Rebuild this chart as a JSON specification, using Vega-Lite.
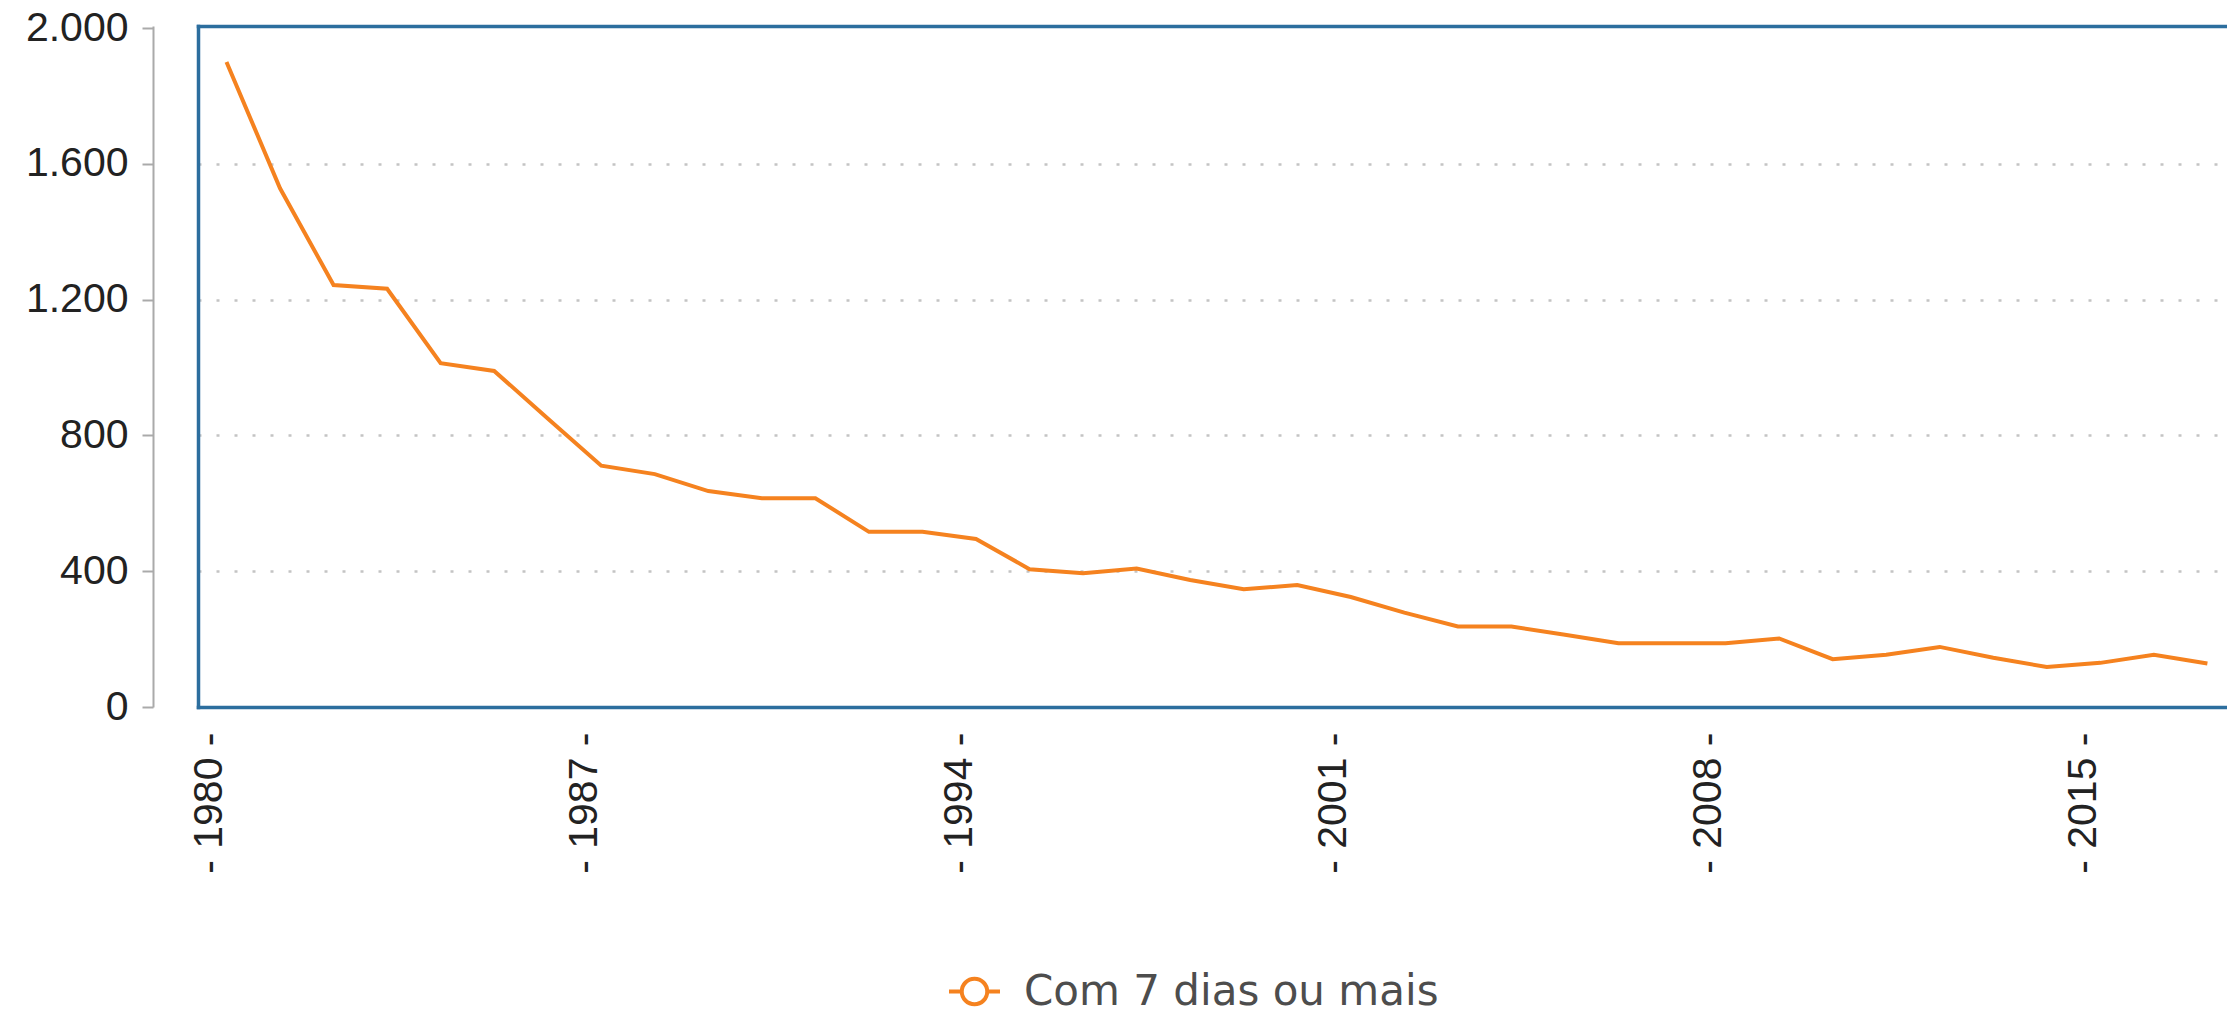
{
  "$schema": "https://vega.github.io/schema/vega-lite/v6.json",
  "autosize": {"type": "none"},
  "width": 2029,
  "height": 681,
  "padding": {"left": 198, "top": 26, "right": 0, "bottom": 308},
  "background": "white",
  "config": {
    "view": {"stroke": null},
    "font": "Liberation Sans"
  },
  "data": {
    "values": [
      {"ano": 1980, "valor": 1900, "serie": "Com 7 dias ou mais"},
      {"ano": 1981, "valor": 1528, "serie": "Com 7 dias ou mais"},
      {"ano": 1982, "valor": 1243, "serie": "Com 7 dias ou mais"},
      {"ano": 1983, "valor": 1232, "serie": "Com 7 dias ou mais"},
      {"ano": 1984, "valor": 1013, "serie": "Com 7 dias ou mais"},
      {"ano": 1985, "valor": 990, "serie": "Com 7 dias ou mais"},
      {"ano": 1986, "valor": 850, "serie": "Com 7 dias ou mais"},
      {"ano": 1987, "valor": 711, "serie": "Com 7 dias ou mais"},
      {"ano": 1988, "valor": 686, "serie": "Com 7 dias ou mais"},
      {"ano": 1989, "valor": 636, "serie": "Com 7 dias ou mais"},
      {"ano": 1990, "valor": 615, "serie": "Com 7 dias ou mais"},
      {"ano": 1991, "valor": 615, "serie": "Com 7 dias ou mais"},
      {"ano": 1992, "valor": 516, "serie": "Com 7 dias ou mais"},
      {"ano": 1993, "valor": 516, "serie": "Com 7 dias ou mais"},
      {"ano": 1994, "valor": 495, "serie": "Com 7 dias ou mais"},
      {"ano": 1995, "valor": 406, "serie": "Com 7 dias ou mais"},
      {"ano": 1996, "valor": 394, "serie": "Com 7 dias ou mais"},
      {"ano": 1997, "valor": 408, "serie": "Com 7 dias ou mais"},
      {"ano": 1998, "valor": 374, "serie": "Com 7 dias ou mais"},
      {"ano": 1999, "valor": 347, "serie": "Com 7 dias ou mais"},
      {"ano": 2000, "valor": 359, "serie": "Com 7 dias ou mais"},
      {"ano": 2001, "valor": 324, "serie": "Com 7 dias ou mais"},
      {"ano": 2002, "valor": 278, "serie": "Com 7 dias ou mais"},
      {"ano": 2003, "valor": 237, "serie": "Com 7 dias ou mais"},
      {"ano": 2004, "valor": 237, "serie": "Com 7 dias ou mais"},
      {"ano": 2005, "valor": 213, "serie": "Com 7 dias ou mais"},
      {"ano": 2006, "valor": 188, "serie": "Com 7 dias ou mais"},
      {"ano": 2007, "valor": 188, "serie": "Com 7 dias ou mais"},
      {"ano": 2008, "valor": 188, "serie": "Com 7 dias ou mais"},
      {"ano": 2009, "valor": 202, "serie": "Com 7 dias ou mais"},
      {"ano": 2010, "valor": 141, "serie": "Com 7 dias ou mais"},
      {"ano": 2011, "valor": 154, "serie": "Com 7 dias ou mais"},
      {"ano": 2012, "valor": 177, "serie": "Com 7 dias ou mais"},
      {"ano": 2013, "valor": 145, "serie": "Com 7 dias ou mais"},
      {"ano": 2014, "valor": 118, "serie": "Com 7 dias ou mais"},
      {"ano": 2015, "valor": 130, "serie": "Com 7 dias ou mais"},
      {"ano": 2016, "valor": 154, "serie": "Com 7 dias ou mais"},
      {"ano": 2017, "valor": 128, "serie": "Com 7 dias ou mais"}
    ]
  },
  "resolve": {"axis": {"x": "independent", "y": "independent"}},
  "layer": [
    {
      "mark": {"type": "line", "strokeWidth": 4, "interpolate": "linear"},
      "encoding": {
        "x": {
          "field": "ano",
          "type": "quantitative",
          "scale": {"domain": [1979.468, 2017.366], "nice": false, "zero": false},
          "axis": {
            "orient": "bottom",
            "title": null,
            "values": [1980, 1987, 1994, 2001, 2008, 2015],
            "labelExpr": "'- ' + datum.value + ' -'",
            "labelAngle": 270,
            "labelFontSize": 41,
            "labelColor": "#222222",
            "labelPadding": 25,
            "labelOffset": -17,
            "ticks": false,
            "domain": true,
            "domainColor": "#2c6e9e",
            "domainWidth": 3.5,
            "domainCap": "square",
            "grid": false
          }
        },
        "y": {
          "field": "valor",
          "type": "quantitative",
          "scale": {"domain": [0, 2006], "nice": false},
          "axis": {
            "orient": "left",
            "title": null,
            "values": [0, 400, 800, 1200, 1600, 2000],
            "labelExpr": "replace(format(datum.value, ','), ',', '.')",
            "labelFontSize": 41,
            "labelColor": "#222222",
            "labelPadding": 14,
            "offset": 45,
            "domainColor": "#aaaaaa",
            "domainWidth": 2,
            "tickColor": "#aaaaaa",
            "tickWidth": 2,
            "tickSize": 11,
            "grid": true,
            "gridColor": {"condition": {"test": "datum.value === 0 || datum.value === 2000", "value": "transparent"}, "value": "#c4c4c4"},
            "gridDash": [3, 15],
            "gridWidth": 2.5
          }
        },
        "color": {
          "field": "serie",
          "type": "nominal",
          "scale": {"range": ["#f5821f"]},
          "legend": {
            "title": null,
            "orient": "none",
            "legendX": 749,
            "legendY": 938,
            "padding": 0,
            "symbolType": "M -1 0 L -0.5 0 M 0.5 0 L 1 0 M -0.5 0 A 0.5 0.5 0 1 1 0.5 0 A 0.5 0.5 0 1 1 -0.5 0",
            "symbolSize": 2601,
            "symbolStrokeWidth": 4,
            "symbolFillColor": "white",
            "symbolStrokeColor": "#f5821f",
            "labelFont": "DejaVu Sans",
            "labelFontSize": 42,
            "labelColor": "#4d4d4d",
            "labelOffset": 22,
            "labelLimit": 1000
          }
        }
      }
    },
    {
      "mark": {"type": "line", "opacity": 0},
      "encoding": {
        "x": {
          "field": "ano",
          "type": "quantitative",
          "axis": {
            "orient": "top",
            "title": null,
            "labels": false,
            "ticks": false,
            "grid": false,
            "domain": true,
            "domainColor": "#2c6e9e",
            "domainWidth": 3.5,
            "domainCap": "square"
          }
        },
        "y": {
          "field": "valor",
          "type": "quantitative",
          "axis": {
            "orient": "left",
            "title": null,
            "labels": false,
            "ticks": false,
            "grid": false,
            "offset": 0,
            "domain": true,
            "domainColor": "#2c6e9e",
            "domainWidth": 3.5,
            "domainCap": "square"
          }
        }
      }
    }
  ]
}
